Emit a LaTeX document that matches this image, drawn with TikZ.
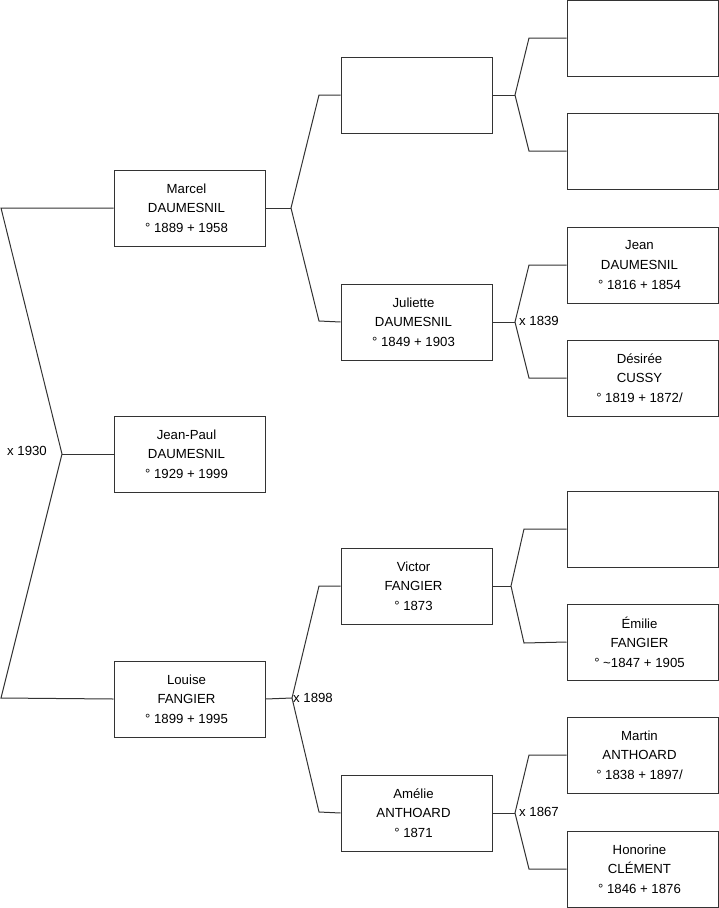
\documentclass[tikz,border=0pt]{standalone}
\usepackage{fontspec}
\setmainfont{Liberation Sans}
\usetikzlibrary{calc}

\tikzset{
  person/.style={draw=black!80,line width=1pt,minimum width=151,minimum height=76,
    align=center,inner sep=0pt,font=\fontsize{13.2}{19.6}\selectfont},
  link/.style={draw=black!80,line width=1pt},
  wed/.style={font=\fontsize{13.2}{15}\selectfont,inner sep=1pt}
}
% three lines of a person, set a little left of the box centre
\newcommand{\who}[3]{#1\rule{6pt}{0pt}\\#2\rule{6pt}{0pt}\\#3\rule{6pt}{0pt}}

\begin{document}
\begin{tikzpicture}[x=1pt,y=-1pt]
  \useasboundingbox (0,0) rectangle (719,908);
  % generation 1
  \node[person] (marcel) at (189.5,208) {\who{Marcel}{DAUMESNIL}{° 1889 + 1958}};
  \node[person] (jeanpaul) at (189.5,454) {\who{Jean-Paul}{DAUMESNIL}{° 1929 + 1999}};
  \node[person] (louise) at (189.5,699) {\who{Louise}{FANGIER}{° 1899 + 1995}};
  % generation 2
  \node[person] (pmarcel) at (416.5,95) {};
  \node[person] (juliette) at (416.5,322) {\who{Juliette}{DAUMESNIL}{° 1849 + 1903}};
  \node[person] (victor) at (416.5,586) {\who{Victor}{FANGIER}{° 1873}};
  \node[person] (amelie) at (416.5,813) {\who{Amélie}{ANTHOARD}{° 1871}};
  % generation 3
  \node[person] (gp1) at (642.5,38) {};
  \node[person] (gp2) at (642.5,151) {};
  \node[person] (jean) at (642.5,265) {\who{Jean}{DAUMESNIL}{° 1816 + 1854}};
  \node[person] (desiree) at (642.5,378) {\who{Désirée}{CUSSY}{° 1819 + 1872/}};
  \node[person] (gp5) at (642.5,529) {};
  \node[person] (emilie) at (642.5,642) {\who{Émilie}{FANGIER}{° \textasciitilde1847 + 1905}};
  \node[person] (martin) at (642.5,755) {\who{Martin}{ANTHOARD}{° 1838 + 1897/}};
  \node[person] (honorine) at (642.5,869) {\who{Honorine}{CLÉMENT}{° 1846 + 1876}};

  % fork of Jean-Paul
  \coordinate (f0) at (62,454);
  \coordinate (f0u) at (1,208);
  \coordinate (f0d) at (1,698);
  \draw[link] (jeanpaul.west) -- (f0);
  \draw[link] (marcel.west) -- (f0u) -- (f0) -- (f0d) -- (louise.west);
  \node[wed,anchor=east] (w0) at ($(f0)+(-14,-3)$) {x 1930};

  % fork of Marcel
  \coordinate (f1) at (291,208);
  \coordinate (f1u) at (319,95);
  \coordinate (f1d) at (319,321);
  \draw[link] (marcel.east) -- (f1);
  \draw[link] (pmarcel.west) -- (f1u) -- (f1) -- (f1d) -- (juliette.west);

  % fork of Louise
  \coordinate (f2) at (292,698);
  \coordinate (f2u) at (319,586);
  \coordinate (f2d) at (319,812);
  \draw[link] (louise.east) -- (f2);
  \draw[link] (victor.west) -- (f2u) -- (f2) -- (f2d) -- (amelie.west);
  \node[wed,anchor=west] (w2) at (f2) {x 1898};

  % fork of Marcel's father
  \coordinate (f3) at (515,95);
  \coordinate (f3u) at (529,38);
  \coordinate (f3d) at (529,151);
  \draw[link] (pmarcel.east) -- (f3);
  \draw[link] (gp1.west) -- (f3u) -- (f3) -- (f3d) -- (gp2.west);

  % fork of Juliette
  \coordinate (f4) at (515,322);
  \coordinate (f4u) at (529,265);
  \coordinate (f4d) at (529,378);
  \draw[link] (juliette.east) -- (f4);
  \draw[link] (jean.west) -- (f4u) -- (f4) -- (f4d) -- (desiree.west);
  \node[wed,anchor=west] (w4) at ($(f4)+(3,-1)$) {x 1839};

  % fork of Victor
  \coordinate (f5) at (511,586);
  \coordinate (f5u) at (524,529);
  \coordinate (f5d) at (524,643);
  \draw[link] (victor.east) -- (f5);
  \draw[link] (gp5.west) -- (f5u) -- (f5) -- (f5d) -- (emilie.west);

  % fork of Amelie
  \coordinate (f6) at (515,813);
  \coordinate (f6u) at (529,755);
  \coordinate (f6d) at (529,869);
  \draw[link] (amelie.east) -- (f6);
  \draw[link] (martin.west) -- (f6u) -- (f6) -- (f6d) -- (honorine.west);
  \node[wed,anchor=west] (w6) at ($(f6)+(3,-1)$) {x 1867};
\end{tikzpicture}
\end{document}
